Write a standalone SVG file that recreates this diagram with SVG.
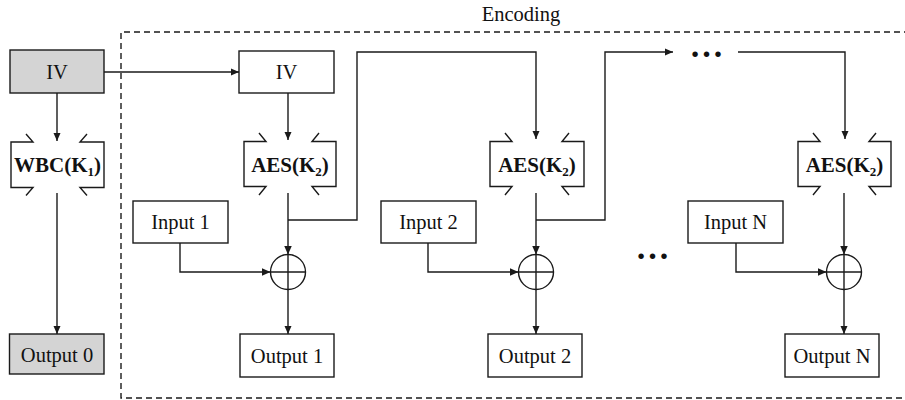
<svg xmlns="http://www.w3.org/2000/svg" width="905" height="400" viewBox="0 0 905 400">
<style>
.box{fill:#fff;stroke:#1a1a1a;stroke-width:1.4}
.gray{fill:#d4d4d4;stroke:#1a1a1a;stroke-width:1.4}
.br{fill:none;stroke:#1a1a1a;stroke-width:1.4}
.ln{fill:none;stroke:#1a1a1a;stroke-width:1.4}
.arr{fill:none;stroke:#1a1a1a;stroke-width:1.4;marker-end:url(#ah)}
.t{font-family:"Liberation Serif","Times New Roman",serif;font-size:20.5px;fill:#111;text-anchor:middle}
.b{font-family:"Liberation Serif","Times New Roman",serif;font-size:21px;font-weight:bold;fill:#111;text-anchor:middle}
.sub{font-size:13px}
.dots{font-family:"Liberation Serif","Times New Roman",serif;font-size:34px;font-weight:bold;fill:#111;text-anchor:middle}
.dash{fill:none;stroke:#1a1a1a;stroke-width:1.4;stroke-dasharray:6,4}
</style>
<defs>
<marker id="ah" markerWidth="9" markerHeight="8" refX="8.5" refY="3.75" orient="auto" markerUnits="userSpaceOnUse">
<path d="M0,0 L8.5,3.75 L0,7.5 z" fill="#1a1a1a"/>
</marker>
</defs>
<rect width="905" height="400" fill="#fff"/>

<g id="encoding-frame">
<path class="dash" d="M910,32 H121 V398 H910"/>
<text class="t" x="521" y="21">Encoding</text>
</g>

<g id="iv0"><rect class="gray" x="10" y="50" width="94" height="43"/><text class="t" x="57" y="79">IV</text></g>
<g id="wbc">
<path class="br" d="M26,134 L33,142 H11 V187.5 H33 L26,195.5 M87,134 L80,142 H104 V187.5 H80 L87,195.5"/>
<text class="b" x="57.5" y="172">WBC(K<tspan class="sub" dy="4">1</tspan><tspan dy="-4">)</tspan></text>
</g>
<g id="out0"><rect class="gray" x="9.5" y="334" width="94.5" height="40"/><text class="t" x="57" y="362">Output 0</text></g>

<g id="iv1"><rect class="box" x="239" y="51" width="95" height="42"/><text class="t" x="286.5" y="79">IV</text></g>
<g id="aes1">
<path class="br" d="M259,133 L266,141.5 H244 V186.5 H266 L259,195 M319,133 L312,141.5 H336 V186.5 H312 L319,195"/>
<text class="b" x="290" y="171.5">AES(K<tspan class="sub" dy="4">2</tspan><tspan dy="-4">)</tspan></text>
</g>
<g id="in1"><rect class="box" x="133" y="201" width="95" height="42"/><text class="t" x="180.5" y="229">Input 1</text></g>
<g id="xor1"><circle class="ln" cx="288" cy="272" r="17.5"/><path class="ln" d="M270.5,272 H305.5 M288,254.5 V289.5"/></g>
<g id="out1"><rect class="box" x="240" y="334" width="94" height="43"/><text class="t" x="287" y="363">Output 1</text></g>

<g id="aes2">
<path class="br" d="M505,133 L512,141.5 H490 V186.5 H512 L505,195 M569,133 L562,141.5 H584 V186.5 H562 L569,195"/>
<text class="b" x="537" y="171.5">AES(K<tspan class="sub" dy="4">2</tspan><tspan dy="-4">)</tspan></text>
</g>
<g id="in2"><rect class="box" x="381" y="201" width="95" height="42"/><text class="t" x="428.5" y="229">Input 2</text></g>
<g id="xor2"><circle class="ln" cx="536" cy="272" r="17.5"/><path class="ln" d="M518.5,272 H553.5 M536,254.5 V289.5"/></g>
<g id="out2"><rect class="box" x="488" y="334" width="94" height="43"/><text class="t" x="535" y="363">Output 2</text></g>

<g id="dots-top"><text class="dots" x="706.5" y="57">…</text></g>
<g id="dots-mid"><text class="dots" x="652.5" y="259">…</text></g>

<g id="aesN">
<path class="br" d="M813,133 L820,141.5 H798 V186.5 H820 L813,195 M876,133 L869,141.5 H891 V186.5 H869 L876,195"/>
<text class="b" x="844.5" y="171.5">AES(K<tspan class="sub" dy="4">2</tspan><tspan dy="-4">)</tspan></text>
</g>
<g id="inN"><rect class="box" x="688" y="201" width="95" height="42"/><text class="t" x="735.5" y="229">Input N</text></g>
<g id="xorN"><circle class="ln" cx="844" cy="272" r="17.5"/><path class="ln" d="M826.5,272 H861.5 M844,254.5 V289.5"/></g>
<g id="outN"><rect class="box" x="785" y="334" width="94" height="43"/><text class="t" x="832" y="363">Output N</text></g>

<g id="connectors">
<path class="arr" d="M57,93 V141"/>
<path class="arr" d="M57,193 V334"/>
<path class="arr" d="M104,72 H239"/>
<path class="arr" d="M288,93 V140"/>
<path class="arr" d="M288,193 V254.5"/>
<path class="arr" d="M288,220 H357 V52 H536 V139"/>
<path class="arr" d="M180,243 V272 H270.5"/>
<path class="arr" d="M288,289.5 V334"/>
<path class="arr" d="M536,193 V254.5"/>
<path class="arr" d="M536,220 H605 V52 H673"/>
<path class="arr" d="M428,243 V272 H518.5"/>
<path class="arr" d="M536,289.5 V334"/>
<path class="arr" d="M738,52 H845 V139"/>
<path class="arr" d="M844,193 V254.5"/>
<path class="arr" d="M736,243 V272 H826.5"/>
<path class="arr" d="M844,289.5 V334"/>
</g>
</svg>
